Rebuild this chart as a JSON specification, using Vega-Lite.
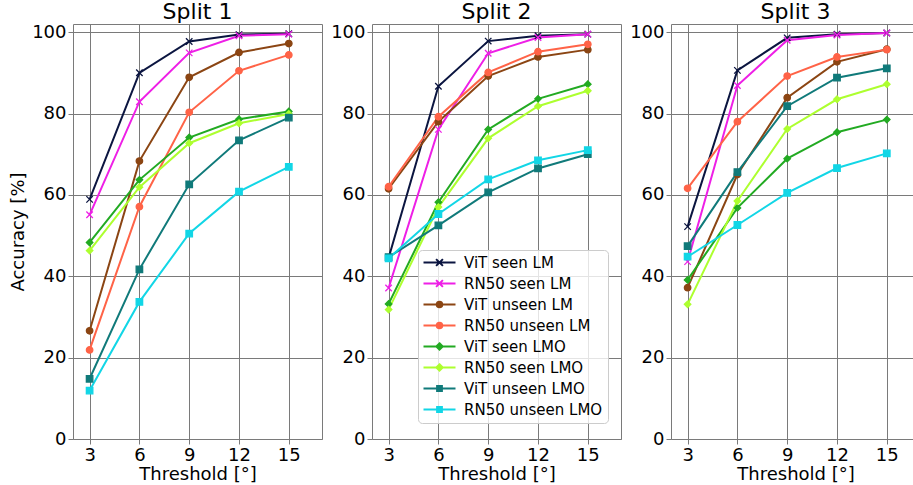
{
  "$schema": "https://vega.github.io/schema/vega-lite/v6.json",
  "autosize": {"type": "none"},
  "padding": {"left": 73, "top": 24, "right": 840, "bottom": 461},
  "background": "white",
  "config": {
    "font": "DejaVu Sans",
    "view": {"stroke": "#7a7a7a", "strokeWidth": 1},
    "axis": {
      "labelFont": "DejaVu Sans", "labelFontSize": 18, "labelColor": "#000",
      "titleFont": "DejaVu Sans", "titleFontSize": 18, "titleFontWeight": "normal", "titleColor": "#000",
      "grid": true, "gridColor": "#7a7a7a", "gridOpacity": 1, "gridWidth": 1,
      "domain": false, "tickColor": "#7a7a7a", "tickSize": 5, "labelPadding": 2
    },
    "axisX": {"titlePadding": 1},
    "title": {"font": "DejaVu Sans", "fontSize": 22, "fontWeight": "normal", "color": "#000", "offset": -1}
  },
  "data": {"values": [
    {"split": 1, "series": "ViT seen LM", "thr": 3, "acc": 58.9},
    {"split": 1, "series": "ViT seen LM", "thr": 6, "acc": 90.0},
    {"split": 1, "series": "ViT seen LM", "thr": 9, "acc": 97.7},
    {"split": 1, "series": "ViT seen LM", "thr": 12, "acc": 99.4},
    {"split": 1, "series": "ViT seen LM", "thr": 15, "acc": 99.6},
    {"split": 1, "series": "RN50 seen LM", "thr": 3, "acc": 55.1},
    {"split": 1, "series": "RN50 seen LM", "thr": 6, "acc": 82.9},
    {"split": 1, "series": "RN50 seen LM", "thr": 9, "acc": 94.9},
    {"split": 1, "series": "RN50 seen LM", "thr": 12, "acc": 99.1},
    {"split": 1, "series": "RN50 seen LM", "thr": 15, "acc": 99.5},
    {"split": 1, "series": "ViT unseen LM", "thr": 3, "acc": 26.6},
    {"split": 1, "series": "ViT unseen LM", "thr": 6, "acc": 68.3},
    {"split": 1, "series": "ViT unseen LM", "thr": 9, "acc": 88.9},
    {"split": 1, "series": "ViT unseen LM", "thr": 12, "acc": 95.0},
    {"split": 1, "series": "ViT unseen LM", "thr": 15, "acc": 97.2},
    {"split": 1, "series": "RN50 unseen LM", "thr": 3, "acc": 21.9},
    {"split": 1, "series": "RN50 unseen LM", "thr": 6, "acc": 57.1},
    {"split": 1, "series": "RN50 unseen LM", "thr": 9, "acc": 80.3},
    {"split": 1, "series": "RN50 unseen LM", "thr": 12, "acc": 90.5},
    {"split": 1, "series": "RN50 unseen LM", "thr": 15, "acc": 94.4},
    {"split": 1, "series": "ViT seen LMO", "thr": 3, "acc": 48.3},
    {"split": 1, "series": "ViT seen LMO", "thr": 6, "acc": 63.7},
    {"split": 1, "series": "ViT seen LMO", "thr": 9, "acc": 74.1},
    {"split": 1, "series": "ViT seen LMO", "thr": 12, "acc": 78.6},
    {"split": 1, "series": "ViT seen LMO", "thr": 15, "acc": 80.5},
    {"split": 1, "series": "RN50 seen LMO", "thr": 3, "acc": 46.3},
    {"split": 1, "series": "RN50 seen LMO", "thr": 6, "acc": 61.9},
    {"split": 1, "series": "RN50 seen LMO", "thr": 9, "acc": 72.7},
    {"split": 1, "series": "RN50 seen LMO", "thr": 12, "acc": 77.6},
    {"split": 1, "series": "RN50 seen LMO", "thr": 15, "acc": 79.9},
    {"split": 1, "series": "ViT unseen LMO", "thr": 3, "acc": 14.8},
    {"split": 1, "series": "ViT unseen LMO", "thr": 6, "acc": 41.7},
    {"split": 1, "series": "ViT unseen LMO", "thr": 9, "acc": 62.6},
    {"split": 1, "series": "ViT unseen LMO", "thr": 12, "acc": 73.4},
    {"split": 1, "series": "ViT unseen LMO", "thr": 15, "acc": 79.0},
    {"split": 1, "series": "RN50 unseen LMO", "thr": 3, "acc": 11.9},
    {"split": 1, "series": "RN50 unseen LMO", "thr": 6, "acc": 33.7},
    {"split": 1, "series": "RN50 unseen LMO", "thr": 9, "acc": 50.5},
    {"split": 1, "series": "RN50 unseen LMO", "thr": 12, "acc": 60.8},
    {"split": 1, "series": "RN50 unseen LMO", "thr": 15, "acc": 66.9},

    {"split": 2, "series": "ViT seen LM", "thr": 3, "acc": 44.5},
    {"split": 2, "series": "ViT seen LM", "thr": 6, "acc": 86.7},
    {"split": 2, "series": "ViT seen LM", "thr": 9, "acc": 97.8},
    {"split": 2, "series": "ViT seen LM", "thr": 12, "acc": 99.1},
    {"split": 2, "series": "ViT seen LM", "thr": 15, "acc": 99.5},
    {"split": 2, "series": "RN50 seen LM", "thr": 3, "acc": 37.1},
    {"split": 2, "series": "RN50 seen LM", "thr": 6, "acc": 76.1},
    {"split": 2, "series": "RN50 seen LM", "thr": 9, "acc": 94.8},
    {"split": 2, "series": "RN50 seen LM", "thr": 12, "acc": 98.7},
    {"split": 2, "series": "RN50 seen LM", "thr": 15, "acc": 99.5},
    {"split": 2, "series": "ViT unseen LM", "thr": 3, "acc": 61.5},
    {"split": 2, "series": "ViT unseen LM", "thr": 6, "acc": 78.0},
    {"split": 2, "series": "ViT unseen LM", "thr": 9, "acc": 89.2},
    {"split": 2, "series": "ViT unseen LM", "thr": 12, "acc": 93.9},
    {"split": 2, "series": "ViT unseen LM", "thr": 15, "acc": 95.7},
    {"split": 2, "series": "RN50 unseen LM", "thr": 3, "acc": 62.0},
    {"split": 2, "series": "RN50 unseen LM", "thr": 6, "acc": 79.2},
    {"split": 2, "series": "RN50 unseen LM", "thr": 9, "acc": 90.1},
    {"split": 2, "series": "RN50 unseen LM", "thr": 12, "acc": 95.2},
    {"split": 2, "series": "RN50 unseen LM", "thr": 15, "acc": 97.0},
    {"split": 2, "series": "ViT seen LMO", "thr": 3, "acc": 33.2},
    {"split": 2, "series": "ViT seen LMO", "thr": 6, "acc": 58.2},
    {"split": 2, "series": "ViT seen LMO", "thr": 9, "acc": 76.1},
    {"split": 2, "series": "ViT seen LMO", "thr": 12, "acc": 83.6},
    {"split": 2, "series": "ViT seen LMO", "thr": 15, "acc": 87.2},
    {"split": 2, "series": "RN50 seen LMO", "thr": 3, "acc": 31.8},
    {"split": 2, "series": "RN50 seen LMO", "thr": 6, "acc": 57.0},
    {"split": 2, "series": "RN50 seen LMO", "thr": 9, "acc": 73.9},
    {"split": 2, "series": "RN50 seen LMO", "thr": 12, "acc": 81.8},
    {"split": 2, "series": "RN50 seen LMO", "thr": 15, "acc": 85.6},
    {"split": 2, "series": "ViT unseen LMO", "thr": 3, "acc": 44.7},
    {"split": 2, "series": "ViT unseen LMO", "thr": 6, "acc": 52.5},
    {"split": 2, "series": "ViT unseen LMO", "thr": 9, "acc": 60.6},
    {"split": 2, "series": "ViT unseen LMO", "thr": 12, "acc": 66.5},
    {"split": 2, "series": "ViT unseen LMO", "thr": 15, "acc": 70.0},
    {"split": 2, "series": "RN50 unseen LMO", "thr": 3, "acc": 44.4},
    {"split": 2, "series": "RN50 unseen LMO", "thr": 6, "acc": 55.3},
    {"split": 2, "series": "RN50 unseen LMO", "thr": 9, "acc": 63.8},
    {"split": 2, "series": "RN50 unseen LMO", "thr": 12, "acc": 68.5},
    {"split": 2, "series": "RN50 unseen LMO", "thr": 15, "acc": 71.0},

    {"split": 3, "series": "ViT seen LM", "thr": 3, "acc": 52.2},
    {"split": 3, "series": "ViT seen LM", "thr": 6, "acc": 90.6},
    {"split": 3, "series": "ViT seen LM", "thr": 9, "acc": 98.6},
    {"split": 3, "series": "ViT seen LM", "thr": 12, "acc": 99.5},
    {"split": 3, "series": "ViT seen LM", "thr": 15, "acc": 99.8},
    {"split": 3, "series": "RN50 seen LM", "thr": 3, "acc": 43.6},
    {"split": 3, "series": "RN50 seen LM", "thr": 6, "acc": 86.9},
    {"split": 3, "series": "RN50 seen LM", "thr": 9, "acc": 98.0},
    {"split": 3, "series": "RN50 seen LM", "thr": 12, "acc": 99.3},
    {"split": 3, "series": "RN50 seen LM", "thr": 15, "acc": 99.8},
    {"split": 3, "series": "ViT unseen LM", "thr": 3, "acc": 37.2},
    {"split": 3, "series": "ViT unseen LM", "thr": 6, "acc": 65.0},
    {"split": 3, "series": "ViT unseen LM", "thr": 9, "acc": 83.9},
    {"split": 3, "series": "ViT unseen LM", "thr": 12, "acc": 92.7},
    {"split": 3, "series": "ViT unseen LM", "thr": 15, "acc": 95.8},
    {"split": 3, "series": "RN50 unseen LM", "thr": 3, "acc": 61.6},
    {"split": 3, "series": "RN50 unseen LM", "thr": 6, "acc": 78.0},
    {"split": 3, "series": "RN50 unseen LM", "thr": 9, "acc": 89.2},
    {"split": 3, "series": "RN50 unseen LM", "thr": 12, "acc": 93.9},
    {"split": 3, "series": "RN50 unseen LM", "thr": 15, "acc": 95.7},
    {"split": 3, "series": "ViT seen LMO", "thr": 3, "acc": 39.1},
    {"split": 3, "series": "ViT seen LMO", "thr": 6, "acc": 56.8},
    {"split": 3, "series": "ViT seen LMO", "thr": 9, "acc": 68.9},
    {"split": 3, "series": "ViT seen LMO", "thr": 12, "acc": 75.4},
    {"split": 3, "series": "ViT seen LMO", "thr": 15, "acc": 78.5},
    {"split": 3, "series": "RN50 seen LMO", "thr": 3, "acc": 33.1},
    {"split": 3, "series": "RN50 seen LMO", "thr": 6, "acc": 58.5},
    {"split": 3, "series": "RN50 seen LMO", "thr": 9, "acc": 76.2},
    {"split": 3, "series": "RN50 seen LMO", "thr": 12, "acc": 83.5},
    {"split": 3, "series": "RN50 seen LMO", "thr": 15, "acc": 87.2},
    {"split": 3, "series": "ViT unseen LMO", "thr": 3, "acc": 47.4},
    {"split": 3, "series": "ViT unseen LMO", "thr": 6, "acc": 65.6},
    {"split": 3, "series": "ViT unseen LMO", "thr": 9, "acc": 81.8},
    {"split": 3, "series": "ViT unseen LMO", "thr": 12, "acc": 88.8},
    {"split": 3, "series": "ViT unseen LMO", "thr": 15, "acc": 91.1},
    {"split": 3, "series": "RN50 unseen LMO", "thr": 3, "acc": 44.8},
    {"split": 3, "series": "RN50 unseen LMO", "thr": 6, "acc": 52.6},
    {"split": 3, "series": "RN50 unseen LMO", "thr": 9, "acc": 60.5},
    {"split": 3, "series": "RN50 unseen LMO", "thr": 12, "acc": 66.6},
    {"split": 3, "series": "RN50 unseen LMO", "thr": 15, "acc": 70.2}
  ]},
  "spacing": 50,
  "bounds": "flush",
  "hconcat": [
    {
      "width": 249, "height": 415,
      "title": "Split 1",
      "transform": [{"filter": "datum.split == 1"}],
      "encoding": {
        "x": {"field": "thr", "type": "quantitative", "scale": {"domain": [2, 17], "nice": false, "zero": false}, "axis": {"values": [3, 6, 9, 12, 15], "title": "Threshold [°]"}},
        "y": {"field": "acc", "type": "quantitative", "scale": {"domain": [0, 102], "nice": false}, "axis": {"values": [0, 20, 40, 60, 80, 100], "title": "Accuracy [%]"}},
        "color": {"field": "series", "type": "nominal", "title": null,
          "scale": {"domain": ["ViT seen LM", "RN50 seen LM", "ViT unseen LM", "RN50 unseen LM", "ViT seen LMO", "RN50 seen LMO", "ViT unseen LMO", "RN50 unseen LMO"],
                    "range": ["#0b1540", "#ee1fe6", "#8b4513", "#ff6347", "#22aa22", "#adff2f", "#107a7a", "#12d6e6"]},
          "legend": {"orient": "none", "legendX": 345, "legendY": 226, "padding": 5, "fillColor": "rgba(255,255,255,0.8)", "strokeColor": "#cccccc", "cornerRadius": 4,
            "labelFont": "DejaVu Sans", "labelFontSize": 15, "labelColor": "#000", "symbolSize": 64, "symbolOffset": 9, "labelOffset": 17, "rowPadding": 5,
            "encode": {"symbols": {
              "update": {
                "shape": {"signal": "['M-4,0L4,0M-0.85,-0.85L0.85,0.85M-0.85,0.85L0.85,-0.85','M-4,0L4,0M-0.85,-0.85L0.85,0.85M-0.85,0.85L0.85,-0.85','M-4,0L4,0M-0.7,0A0.7,0.7,0,1,0,0.7,0A0.7,0.7,0,1,0,-0.7,0Z','M-4,0L4,0M-0.7,0A0.7,0.7,0,1,0,0.7,0A0.7,0.7,0,1,0,-0.7,0Z','M-4,0L4,0M0,-0.8L0.8,0L0,0.8L-0.8,0Z','M-4,0L4,0M0,-0.8L0.8,0L0,0.8L-0.8,0Z','M-4,0L4,0M-0.6,-0.6H0.6V0.6H-0.6Z','M-4,0L4,0M-0.6,-0.6H0.6V0.6H-0.6Z'][indexof(['ViT seen LM','RN50 seen LM','ViT unseen LM','RN50 unseen LM','ViT seen LMO','RN50 seen LMO','ViT unseen LMO','RN50 unseen LMO'], datum.value)]"},
                "fill": {"scale": "color", "field": "value"},
                "stroke": {"scale": "color", "field": "value"},
                "strokeWidth": {"value": 2},
                "opacity": {"value": 1}
              }
            }}
          }}
      },
      "layer": [
        {"mark": {"type": "line", "strokeWidth": 2}},
        {"mark": {"type": "point", "filled": true, "size": 42, "strokeWidth": 1.3, "opacity": 1,
                  "shape": {"expr": "indexof(datum.series, 'unseen LMO') >= 0 ? 'square' : indexof(datum.series, 'seen LMO') >= 0 ? 'diamond' : indexof(datum.series, 'unseen') >= 0 ? 'circle' : 'M-1,-1L1,1M-1,1L1,-1'"}},
         "encoding": {
           "stroke": {"field": "series", "type": "nominal", "legend": null,
             "scale": {"domain": ["ViT seen LM", "RN50 seen LM", "ViT unseen LM", "RN50 unseen LM", "ViT seen LMO", "RN50 seen LMO", "ViT unseen LMO", "RN50 unseen LMO"],
                       "range": ["#0b1540", "#ee1fe6", "#8b4513", "#ff6347", "#22aa22", "#adff2f", "#107a7a", "#12d6e6"]}}
         }}
      ]
    },
    {
      "width": 249, "height": 415,
      "title": "Split 2",
      "transform": [{"filter": "datum.split == 2"}],
      "encoding": {
        "x": {"field": "thr", "type": "quantitative", "scale": {"domain": [2, 17], "nice": false, "zero": false}, "axis": {"values": [3, 6, 9, 12, 15], "title": "Threshold [°]"}},
        "y": {"field": "acc", "type": "quantitative", "scale": {"domain": [0, 102], "nice": false}, "axis": {"values": [0, 20, 40, 60, 80, 100], "title": null}},
        "color": {"field": "series", "type": "nominal", "title": null}
      },
      "layer": [
        {"mark": {"type": "line", "strokeWidth": 2}},
        {"mark": {"type": "point", "filled": true, "size": 42, "strokeWidth": 1.3, "opacity": 1,
                  "shape": {"expr": "indexof(datum.series, 'unseen LMO') >= 0 ? 'square' : indexof(datum.series, 'seen LMO') >= 0 ? 'diamond' : indexof(datum.series, 'unseen') >= 0 ? 'circle' : 'M-1,-1L1,1M-1,1L1,-1'"}},
         "encoding": {
           "stroke": {"field": "series", "type": "nominal", "legend": null}
         }}
      ]
    },
    {
      "width": 249, "height": 415,
      "title": "Split 3",
      "transform": [{"filter": "datum.split == 3"}],
      "encoding": {
        "x": {"field": "thr", "type": "quantitative", "scale": {"domain": [2, 17], "nice": false, "zero": false}, "axis": {"values": [3, 6, 9, 12, 15], "title": "Threshold [°]"}},
        "y": {"field": "acc", "type": "quantitative", "scale": {"domain": [0, 102], "nice": false}, "axis": {"values": [0, 20, 40, 60, 80, 100], "title": null}},
        "color": {"field": "series", "type": "nominal", "title": null}
      },
      "layer": [
        {"mark": {"type": "line", "strokeWidth": 2}},
        {"mark": {"type": "point", "filled": true, "size": 42, "strokeWidth": 1.3, "opacity": 1,
                  "shape": {"expr": "indexof(datum.series, 'unseen LMO') >= 0 ? 'square' : indexof(datum.series, 'seen LMO') >= 0 ? 'diamond' : indexof(datum.series, 'unseen') >= 0 ? 'circle' : 'M-1,-1L1,1M-1,1L1,-1'"}},
         "encoding": {
           "stroke": {"field": "series", "type": "nominal", "legend": null}
         }}
      ]
    }
  ]
}
